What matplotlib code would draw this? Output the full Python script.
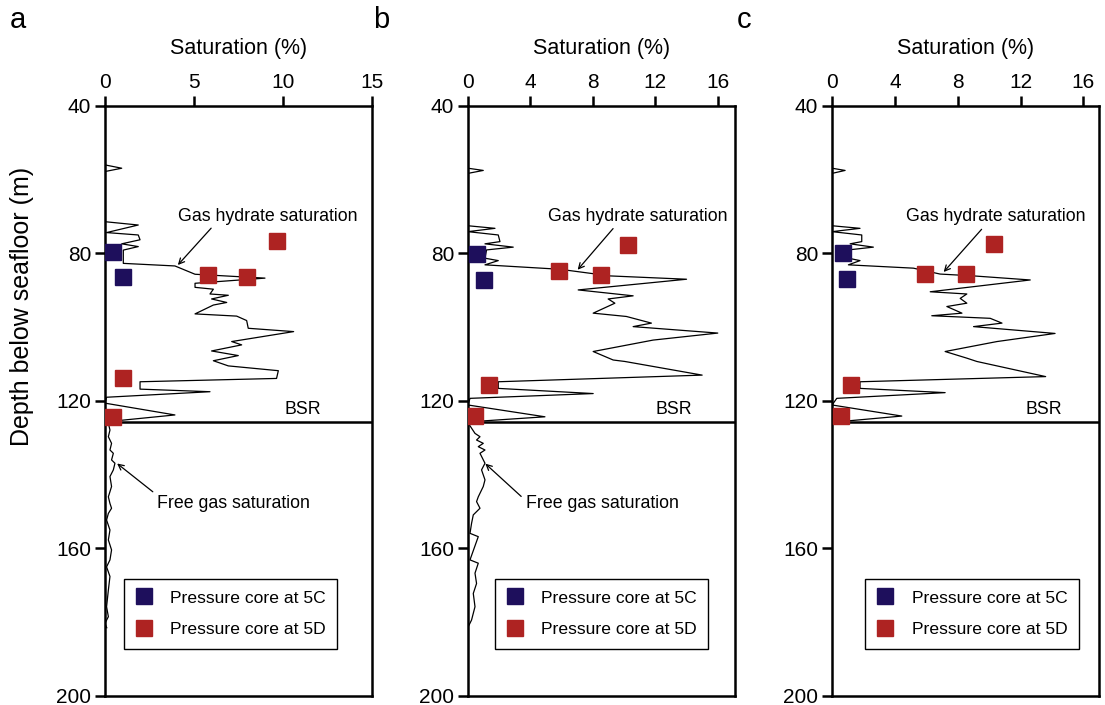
import matplotlib.pyplot as plt
from matplotlib.lines import Line2D

plt.rcParams['font.family'] = ['Liberation Sans', 'DejaVu Sans']

# gas hydrate saturation curves (depth m, saturation %)
hyd_depth_a = [40, 56.0, 56.9, 57.8, 71.4, 72.3, 74.35, 75.0, 76.3, 77.4, 78.15, 79.1, 82.7, 83.4, 85.65,
               86.7, 88.1, 89.2, 89.7, 91.0, 91.35, 92.35, 93.3, 94.0, 96.4, 97.0, 98.2, 100.3, 101.2,
               103.9, 104.8, 106.45, 107.7, 109.1, 110.5, 111.8, 113.9, 114.8, 116.8, 117.5, 119.0,
               120.6, 123.8, 125.6]
hyd_sat_a = [0, 0, 0.94, 0, 0, 1.87, 0.09, 1.87, 1.97, 0.94, 1.87, 1.03, 1.03, 3.93, 5.06,
             8.99, 5.06, 5.06, 6.09, 5.9, 6.93, 5.99, 6.84, 6.09, 5.06, 7.4, 7.96, 8.05, 10.6,
             7.12, 7.68, 5.99, 7.49, 6.09, 6.93, 9.74, 9.64, 1.97, 1.97, 5.9, 0.09,
             0, 3.93, 0.19]

hyd_depth_b = [40, 56.9, 57.5, 58.3, 72.5, 73.2, 74.1, 75.0, 76.8, 77.4, 78.3, 79.05, 81.3, 81.95, 83.1,
               84.3, 86.1, 87.0, 89.9, 91.5, 92.35, 93.5, 96.2, 97.1, 98.9, 99.85, 101.6, 103.5,
               106.6, 108.9, 109.3, 113.0, 114.8, 116.6, 118.0, 119.3, 121.1, 124.3, 125.6]
hyd_sat_b = [0, 0, 0.98, 0, 0, 1.73, 0, 1.94, 2.05, 1.09, 2.9, 1.19, 1.09, 1.94, 1.09,
             5.89, 9.09, 14.0, 7.06, 10.58, 8.98, 9.41, 8.02, 10.15, 11.75, 10.58, 16.0, 11.86,
             8.02, 9.3, 10.05, 15.0, 1.94, 1.94, 8.02, 0.13, 0, 4.93, 0.34]

hyd_depth_c = [40, 56.9, 57.5, 58.3, 72.5, 73.2, 74.1, 75.0, 76.8, 77.4, 78.3, 79.05, 81.3, 81.95, 83.1,
               84.0, 85.6, 86.1, 87.2, 90.4, 91.0, 92.2, 93.5, 94.4, 96.2, 96.9, 97.6, 98.9, 99.85,
               101.7, 103.9, 106.6, 108.4, 109.3, 113.4, 114.8, 116.6, 117.75, 119.3, 121.1, 124.1,
               125.6]
hyd_sat_c = [0, 0, 0.83, 0, 0, 1.78, 0, 1.89, 1.89, 1.15, 2.63, 1.04, 1.04, 1.78, 1.04,
             5.18, 6.88, 9.01, 12.62, 6.25, 8.58, 8.16, 8.58, 7.31, 8.27, 6.35, 10.07, 10.82, 9.01,
             14.2, 10.5, 7.2, 8.58, 9.22, 13.6, 1.78, 1.78, 7.2, 0.3, 0, 4.44, 0.51]

# free gas saturation curves (below BSR)
gas_depth_a = [126.05, 127.9, 129.7, 131.5, 133.3, 134.2, 136.0, 136.9, 138.7, 140.5, 143.2, 146.0,
               147.8, 149.1, 150.5, 152.3, 155.0, 157.7, 160.4, 163.1, 165.0, 167.6, 171.3, 175.8,
               178.5, 180.3, 181.5]
gas_sat_a = [0.19, 0.28, 0.19, 0.37, 0.28, 0.47, 0.37, 0.56, 0.47, 0.28, 0.37, 0.19,
             0.28, 0.37, 0.19, 0.09, 0.28, 0.19, 0.37, 0.28, 0.09, 0.28, 0.19, 0.09,
             0.19, 0, 0.1]

gas_depth_b = [126.05, 128.8, 129.7, 130.6, 131.5, 132.4, 133.3, 134.2, 136.9, 138.7, 141.4, 143.2,
               146.0, 147.3, 149.1, 150.9, 153.2, 155.9, 156.8, 163.1, 164.0, 166.7, 169.5, 172.2,
               175.8, 179.4, 181.2]
gas_sat_b = [0.02, 0.45, 0.77, 0.55, 0.98, 0.66, 1.09, 0.77, 1.09, 0.87, 1.09, 0.98,
             0.66, 0.55, 0.77, 0.34, 0.23, 0.13, 0.66, 0.13, 0.66, 0.45, 0.55, 0.34,
             0.45, 0.23, 0.02]

# pressure cores
c5_depth_a = [79.5, 86.3]
c5_sat_a = [0.47, 0.99]
d5_depth_a = [85.8, 86.3, 76.5, 113.9, 124.3]
d5_sat_a = [5.8, 7.96, 9.64, 0.99, 0.47]

c5_depth_b = [80.2, 87.2]
c5_sat_b = [0.55, 1.05]
d5_depth_b = [84.7, 85.8, 77.7, 115.7, 124.1]
d5_sat_b = [5.85, 8.51, 10.28, 1.37, 0.45]

c5_depth_c = [79.8, 87.0]
c5_sat_c = [0.68, 0.93]
d5_depth_c = [85.6, 85.6, 77.4, 115.7, 124.1]
d5_sat_c = [5.89, 8.54, 10.33, 1.19, 0.55]

bsr_depth = 125.8
blue = '#1e0f5c'
red = '#ae2322'

fig = plt.figure(figsize=(11.05, 7.05), dpi=100)


def panel(left, letter, xmax, xticks, hd, hs, cd, cs, dd, ds, gd, gs,
          hyd_text, hyd_tail, hyd_tip, bsr_x, gas_text, gas_tail, gas_tip, leg_x):
    ax = fig.add_axes([left, 0.0128, 0.2416, 0.837])
    ax.plot(hs, hd, color='black', lw=0.9)
    if gd is not None:
        ax.plot(gs, gd, color='black', lw=0.9)
    ax.plot(cs, cd, 's', color=blue, ms=12, zorder=5)
    ax.plot(ds, dd, 's', color=red, ms=12, zorder=5)
    ax.axhline(bsr_depth, color='black', lw=1.8)

    ax.set_xlim(0, xmax)
    ax.set_ylim(200, 40)
    ax.set_xticks(xticks)
    ax.set_yticks([40, 80, 120, 160, 200])
    ax.xaxis.tick_top()
    ax.xaxis.set_label_position('top')
    ax.tick_params(direction='out', length=7, width=1.8, labelsize=15, pad=3)
    for s in ax.spines.values():
        s.set_linewidth(1.8)
    ax.set_xlabel('Saturation (%)', fontsize=15.5, labelpad=14)

    ax.annotate('', xy=hyd_tip, xytext=hyd_tail,
                arrowprops=dict(arrowstyle='->', color='black', lw=0.9))
    ax.text(hyd_text[0], hyd_text[1], 'Gas hydrate saturation', fontsize=12.8, va='center')
    ax.text(bsr_x, bsr_depth - 1.2, 'BSR', fontsize=12.8, va='bottom')
    if gas_text is not None:
        ax.annotate('', xy=gas_tip, xytext=gas_tail,
                    arrowprops=dict(arrowstyle='->', color='black', lw=0.9))
        ax.text(gas_text[0], gas_text[1], 'Free gas saturation', fontsize=12.8, va='center')

    handles = [Line2D([], [], ls='none', marker='s', color=blue, ms=12),
               Line2D([], [], ls='none', marker='s', color=red, ms=12)]
    leg = ax.legend(handles, ['Pressure core at 5C', 'Pressure core at 5D'],
                    loc='lower left', bbox_to_anchor=(leg_x, 0.08), borderaxespad=0,
                    fontsize=12.6, fancybox=False, edgecolor='black', framealpha=1,
                    handlelength=1.0, handletextpad=1.0, borderpad=0.65, labelspacing=0.95)
    leg.get_frame().set_linewidth(1.0)
    fig.text(left - 0.086, 0.972, letter, fontsize=21, va='center')
    return ax


ax_a = panel(0.095, 'a', 15, [0, 5, 10, 15], hyd_depth_a, hyd_sat_a,
             c5_depth_a, c5_sat_a, d5_depth_a, d5_sat_a, gas_depth_a, gas_sat_a,
             (4.1, 70.1), (6.07, 72.6), (3.99, 83.7), 10.1,
             (2.92, 147.7), (2.81, 145.1), (0.56, 136.5), 0.071)
ax_a.set_ylabel('Depth below seafloor (m)', fontsize=18)
ax_a.yaxis.set_label_coords(-0.265, 0.66)

panel(0.4235, 'b', 17.1, [0, 4, 8, 12, 16], hyd_depth_b, hyd_sat_b,
      c5_depth_b, c5_sat_b, d5_depth_b, d5_sat_b, gas_depth_b, gas_sat_b,
      (5.15, 70.1), (9.41, 72.7), (6.91, 85.0), 12.0,
      (3.7, 147.7), (3.54, 146.4), (0.98, 136.5), 0.10)

panel(0.753, 'c', 17.0, [0, 4, 8, 12, 16], hyd_depth_c, hyd_sat_c,
      c5_depth_c, c5_sat_c, d5_depth_c, d5_sat_c, None, None,
      (4.72, 70.1), (9.64, 72.9), (6.99, 85.6), 12.3,
      None, None, None, 0.124)

fig.savefig('out.png', dpi=100)
